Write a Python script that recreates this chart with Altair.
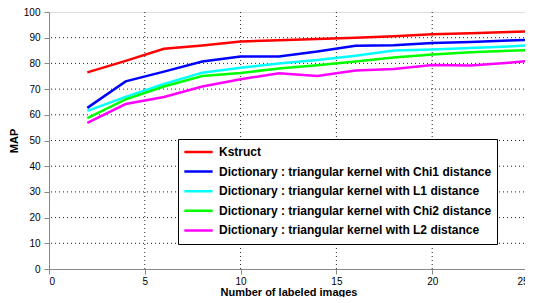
import altair as alt
import pandas as pd

x_vals = [2, 4, 6, 8, 10, 12, 14, 16, 18, 20, 22, 24, 25]
kstruct = [76.5, 81, 85.7, 87, 88.5, 89, 89.5, 90, 90.6, 91.3, 91.7, 92.2, 92.4]
chi1 = [62.7, 73, 76.8, 80.7, 82.7, 82.7, 84.6, 86.9, 87.1, 87.9, 88.3, 88.9, 89.2]
l1 = [61.5, 67, 72, 76.4, 78.3, 80, 81.3, 83, 85, 85.4, 86, 86.6, 87]
chi2 = [58.7, 66, 71, 75.1, 76.3, 78, 79.3, 80.7, 82.3, 83.5, 84.3, 84.9, 85.2]
l2 = [56.9, 64.2, 66.9, 71, 73.8, 76.2, 75.1, 77.2, 77.8, 79.4, 79.2, 80.3, 80.9]

series_names = [
    "Kstruct",
    "Dictionary : triangular kernel with Chi1 distance",
    "Dictionary : triangular kernel with L1 distance",
    "Dictionary : triangular kernel with Chi2 distance",
    "Dictionary : triangular kernel with L2 distance",
]
series_colors = ["#ff0000", "#0000ff", "#00ffff", "#00ff00", "#ff00ff"]
x_ticks = [0, 5, 10, 15, 20, 25]
y_ticks = [0, 10, 20, 30, 40, 50, 60, 70, 80, 90, 100]

rows = []
for name, vals in zip(series_names, [kstruct, chi1, l1, chi2, l2]):
    for xv, yv in zip(x_vals, vals):
        rows.append({"x": xv, "y": yv, "series": name})
df = pd.DataFrame(rows)

font = "Liberation Sans"

xscale = alt.Scale(domain=[0, 25], nice=False)
yscale = alt.Scale(domain=[0, 100], nice=False)

x_axis = alt.Axis(values=x_ticks, title="Number of labeled images",
                  format="d", grid=False, labelPadding=2, titlePadding=0)
y_axis = alt.Axis(values=y_ticks, title="MAP", format="d", grid=False,
                  labelPadding=4, titlePadding=4)

grid_x = alt.Chart(pd.DataFrame({"v": x_ticks[1:-1]})).mark_rule(
    color="#222", strokeDash=[1, 3], strokeWidth=1
).encode(x=alt.X("v:Q", scale=xscale, axis=x_axis))

grid_y = alt.Chart(pd.DataFrame({"v": y_ticks[1:-1]})).mark_rule(
    color="#222", strokeDash=[1, 3], strokeWidth=1
).encode(y=alt.Y("v:Q", scale=yscale, axis=y_axis))

lines = alt.Chart(df).mark_line(strokeWidth=2.5, clip=True).encode(
    x=alt.X("x:Q", scale=xscale, axis=x_axis),
    y=alt.Y("y:Q", scale=yscale, axis=y_axis),
    color=alt.Color("series:N",
                    scale=alt.Scale(domain=series_names, range=series_colors),
                    sort=series_names,
                    legend=alt.Legend(title=None, orient="none",
                                      legendX=129, legendY=127,
                                      symbolType="stroke", symbolSize=800,
                                      symbolStrokeWidth=2.5,
                                      clipHeight=16,
                                      labelFont=font, labelFontSize=12,
                                      labelFontWeight="bold",
                                      labelColor="#000", labelLimit=400,
                                      labelOffset=5,
                                      rowPadding=3.6,
                                      fillColor="white", strokeColor="#000",
                                      padding=5, cornerRadius=0)),
)

chart = alt.layer(grid_x, grid_y, lines).properties(
    width=479, height=257,
    padding={"left": 0, "top": -1, "right": -4, "bottom": 0},
).configure_axis(
    labelFont=font, labelFontSize=12, labelFontWeight="bold", labelColor="#000",
    titleFont=font, titleFontSize=12, titleFontWeight="bold", titleColor="#000",
    domainColor="#000", ticks=True, tickSize=0,
).configure_view(
    stroke="#000", strokeWidth=1
).configure(background="white")

chart.save("out.html", embed_options={"renderer": "svg", "actions": False})
